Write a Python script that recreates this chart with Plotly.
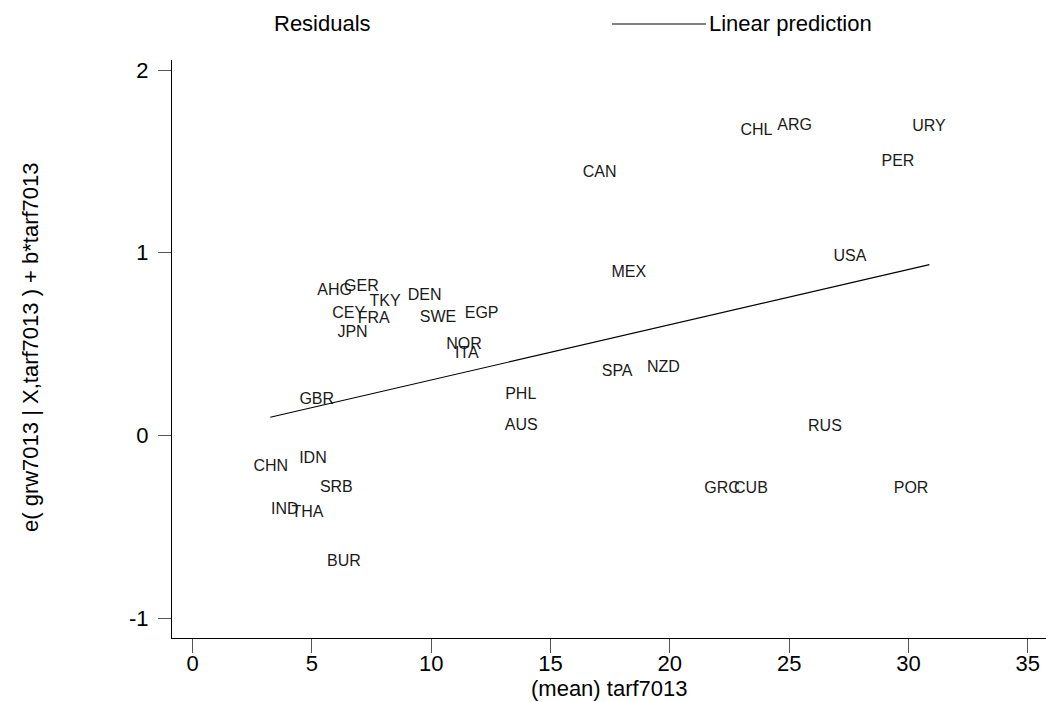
import plotly.graph_objects as go

# ---- data ----
countries = ["CHN", "IDN", "SRB", "IND", "THA", "BUR", "GBR", "AHG", "GER", "TKY",
             "DEN", "CEY", "FRA", "JPN", "SWE", "EGP", "NOR", "ITA", "CAN", "MEX",
             "CHL", "SPA", "NZD", "PHL", "AUS", "GRC", "CUB", "ARG", "URY", "PER",
             "USA", "RUS", "POR"]
tarf7013 = [3.27, 5.04, 6.02, 3.86, 4.81, 6.34, 5.20, 5.95, 7.07, 8.06,
            9.72, 6.54, 7.59, 6.70, 10.28, 12.11, 11.37, 11.49, 17.06, 18.28,
            23.63, 17.79, 19.73, 13.75, 13.77, 22.19, 23.40, 25.23, 30.86, 29.56,
            27.55, 26.50, 30.11]
resid = [-0.172, -0.131, -0.286, -0.409, -0.426, -0.692, 0.197, 0.791, 0.815, 0.729,
         0.761, 0.666, 0.636, 0.562, 0.644, 0.665, 0.494, 0.445, 1.435, 0.892,
         1.664, 0.346, 0.370, 0.224, 0.050, -0.292, -0.292, 1.693, 1.688, 1.496,
         0.977, 0.047, -0.293]
line_x = [3.25, 30.88]
line_y = [0.100, 0.935]

xticks = [0, 5, 10, 15, 20, 25, 30, 35]
xticklabels = ["0", "5", "10", "15", "20", "25", "30", "35"]
yticks = [-1, 0, 1, 2]
yticklabels = ["-1", "0", "1", "2"]

W, H = 1046, 702
ML, MR, MT, MB = 172, 0, 60, 64
PW, PH = W - ML - MR, H - MT - MB

def px_x(p):
    return (p - ML) / PW

def px_y(p):
    return (H - MB - p) / PH

FONT = "Liberation Sans, Arial, sans-serif"

fig = go.Figure()
fig.add_trace(go.Scatter(
    x=tarf7013, y=resid, mode="text", text=countries,
    textposition="middle center",
    textfont=dict(family=FONT, size=16, color="#1a1a1a"),
    showlegend=False, hoverinfo="skip"))
fig.add_trace(go.Scatter(
    x=line_x, y=line_y, mode="lines",
    line=dict(color="black", width=1.2),
    showlegend=False, hoverinfo="skip"))

axis_common = dict(showgrid=False, zeroline=False, showline=True,
                   linecolor="black", linewidth=1.3, ticks="outside",
                   tickcolor="#555", tickwidth=1,
                   tickfont=dict(family=FONT, size=22, color="black"))

fig.update_layout(
    width=W, height=H,
    margin=dict(l=ML, r=MR, t=MT, b=MB, pad=0),
    paper_bgcolor="white", plot_bgcolor="white",
    xaxis=dict(range=[-0.868, 35.767], tickvals=xticks, ticktext=xticklabels,
               ticklen=14, ticklabelstandoff=-9, **axis_common),
    yaxis=dict(range=[-1.108, 2.055], tickvals=yticks, ticktext=yticklabels,
               ticklen=13, ticklabelstandoff=5, **axis_common),
    font=dict(family=FONT, color="black"),
)

ann_font = dict(family=FONT, size=22, color="black")
fig.add_annotation(text="(mean) tarf7013", xref="paper", yref="paper",
                   x=0.5, y=px_y(688), xanchor="center", yanchor="middle",
                   showarrow=False, font=ann_font)
fig.add_annotation(text="e( grw7013 | X,tarf7013 ) + b*tarf7013", xref="paper", yref="paper",
                   x=px_x(31), y=px_y(347), xanchor="center", yanchor="middle",
                   textangle=-90, showarrow=False, font=ann_font)
fig.add_annotation(text="Residuals", xref="paper", yref="paper",
                   x=px_x(272), y=px_y(23), xanchor="left", yanchor="middle",
                   showarrow=False, font=ann_font)
fig.add_annotation(text="Linear prediction", xref="paper", yref="paper",
                   x=px_x(707), y=px_y(23), xanchor="left", yanchor="middle",
                   showarrow=False, font=ann_font)
fig.add_shape(type="line", xref="paper", yref="paper",
              x0=px_x(612), x1=px_x(706), y0=px_y(24), y1=px_y(24),
              line=dict(color="black", width=1.2))

fig.write_html("out.html",
               config={"displayModeBar": False},
               post_script="document.body.style.margin='0px';document.body.style.overflow='hidden';")
